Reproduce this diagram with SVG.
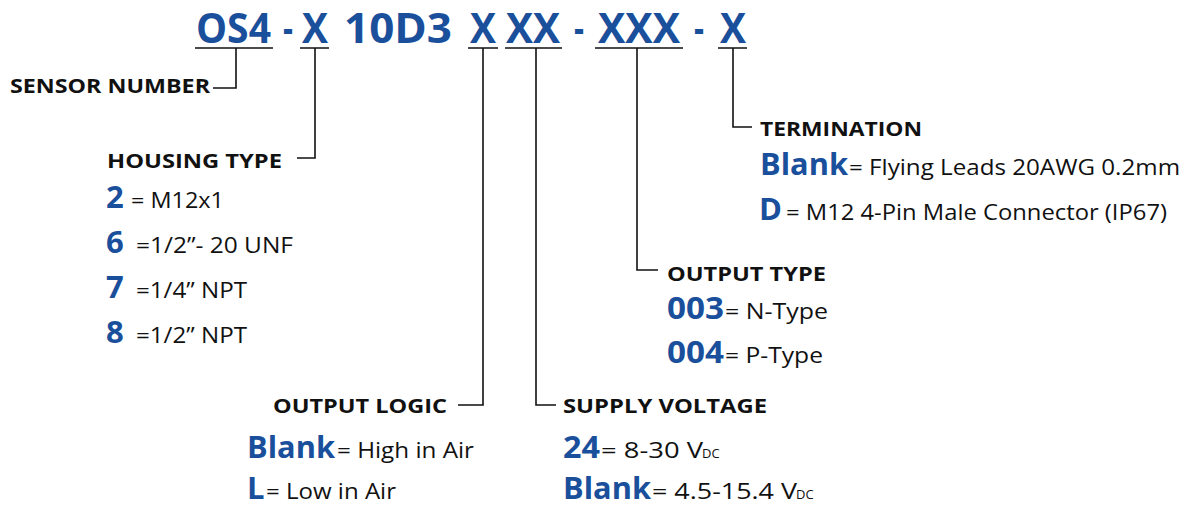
<svg xmlns="http://www.w3.org/2000/svg" width="1189" height="508" viewBox="0 0 1189 508">
<style>
.code{font-family:"Open Sans","Noto Sans",sans-serif;font-weight:700;font-size:41px;fill:#1a4f9c}
.hd{font-family:"Open Sans","Noto Sans",sans-serif;font-weight:700;font-size:20px;fill:#111}
.key{font-family:"Open Sans","Noto Sans",sans-serif;font-weight:700;font-size:31px;fill:#1a4f9c}
.val{font-family:"Open Sans","Noto Sans",sans-serif;font-weight:400;font-size:21px;fill:#111}
.sub{font-family:"Open Sans","Noto Sans",sans-serif;font-weight:400;font-size:13px;fill:#111}
.ln{fill:none;stroke:#111;stroke-width:1.6}
</style>
<rect width="1189" height="508" fill="#fff"/>
<g id="code">
<text class="code" x="196" y="43" textLength="75" lengthAdjust="spacingAndGlyphs">OS4</text>
<text class="code" x="283" y="43" textLength="10" lengthAdjust="spacingAndGlyphs">-</text>
<text class="code" x="302" y="43" textLength="26" lengthAdjust="spacingAndGlyphs">X</text>
<text class="code" x="344" y="43" textLength="108" lengthAdjust="spacingAndGlyphs">10D3</text>
<text class="code" x="470" y="43" textLength="26" lengthAdjust="spacingAndGlyphs">X</text>
<text class="code" x="506" y="43" textLength="54" lengthAdjust="spacingAndGlyphs">XX</text>
<text class="code" x="574" y="43" textLength="10" lengthAdjust="spacingAndGlyphs">-</text>
<text class="code" x="598" y="43" textLength="82" lengthAdjust="spacingAndGlyphs">XXX</text>
<text class="code" x="694" y="43" textLength="10" lengthAdjust="spacingAndGlyphs">-</text>
<text class="code" x="720" y="43" textLength="26" lengthAdjust="spacingAndGlyphs">X</text>
</g>
<g id="connectors">
<path class="ln" d="M195 48H273 M300 48H329 M468 48H498 M505 48H562 M595 48H683 M718 48H747"/>
<path class="ln" d="M236 48V88H213"/>
<path class="ln" d="M315 48V158H297"/>
<path class="ln" d="M483 48V405H458"/>
<path class="ln" d="M536 48V405H556"/>
<path class="ln" d="M637 48V270H658"/>
<path class="ln" d="M733 48V127H752"/>
</g>
<g id="sensor-number">
<text class="hd" x="10" y="93" textLength="200" lengthAdjust="spacingAndGlyphs">SENSOR NUMBER</text>
</g>
<g id="housing-type">
<text class="hd" x="107" y="168" textLength="175" lengthAdjust="spacingAndGlyphs">HOUSING TYPE</text>
<text class="key" x="106" y="208">2</text><text class="val" x="131" y="208" textLength="93" lengthAdjust="spacingAndGlyphs">= M12x1</text>
<text class="key" x="106" y="253">6</text><text class="val" x="136" y="253" textLength="157" lengthAdjust="spacingAndGlyphs">=1/2”- 20 UNF</text>
<text class="key" x="106" y="298">7</text><text class="val" x="136" y="298" textLength="111" lengthAdjust="spacingAndGlyphs">=1/4” NPT</text>
<text class="key" x="106" y="343">8</text><text class="val" x="136" y="343" textLength="111" lengthAdjust="spacingAndGlyphs">=1/2” NPT</text>
</g>
<g id="output-logic">
<text class="hd" x="273" y="413" textLength="174" lengthAdjust="spacingAndGlyphs">OUTPUT LOGIC</text>
<text class="key" x="247" y="458" textLength="88" lengthAdjust="spacingAndGlyphs">Blank</text><text class="val" x="337" y="458" textLength="137" lengthAdjust="spacingAndGlyphs">= High in Air</text>
<text class="key" x="247" y="499">L</text><text class="val" x="266" y="499" textLength="130" lengthAdjust="spacingAndGlyphs">= Low in Air</text>
</g>
<g id="supply-voltage">
<text class="hd" x="563" y="413" textLength="204" lengthAdjust="spacingAndGlyphs">SUPPLY VOLTAGE</text>
<text class="key" x="563" y="458" textLength="37" lengthAdjust="spacingAndGlyphs">24</text><text class="val" x="601" y="458" textLength="102" lengthAdjust="spacingAndGlyphs">= 8-30 V</text><text class="sub" x="702" y="458">DC</text>
<text class="key" x="563" y="499" textLength="88" lengthAdjust="spacingAndGlyphs">Blank</text><text class="val" x="652" y="499" textLength="145" lengthAdjust="spacingAndGlyphs">= 4.5-15.4  V</text><text class="sub" x="796" y="499">DC</text>
</g>
<g id="output-type">
<text class="hd" x="667" y="281" textLength="159" lengthAdjust="spacingAndGlyphs">OUTPUT TYPE</text>
<text class="key" x="667" y="319" textLength="57" lengthAdjust="spacingAndGlyphs">003</text><text class="val" x="725" y="319" textLength="103" lengthAdjust="spacingAndGlyphs">= N-Type</text>
<text class="key" x="667" y="363" textLength="57" lengthAdjust="spacingAndGlyphs">004</text><text class="val" x="725" y="363" textLength="98" lengthAdjust="spacingAndGlyphs">= P-Type</text>
</g>
<g id="termination">
<text class="hd" x="760" y="136" textLength="162" lengthAdjust="spacingAndGlyphs">TERMINATION</text>
<text class="key" x="760" y="175" textLength="88" lengthAdjust="spacingAndGlyphs">Blank</text><text class="val" x="849" y="175" textLength="331" lengthAdjust="spacingAndGlyphs">= Flying Leads 20AWG 0.2mm</text>
<text class="key" x="759" y="220">D</text><text class="val" x="786" y="220" textLength="381" lengthAdjust="spacingAndGlyphs">= M12 4-Pin Male Connector (IP67)</text>
</g>
</svg>
